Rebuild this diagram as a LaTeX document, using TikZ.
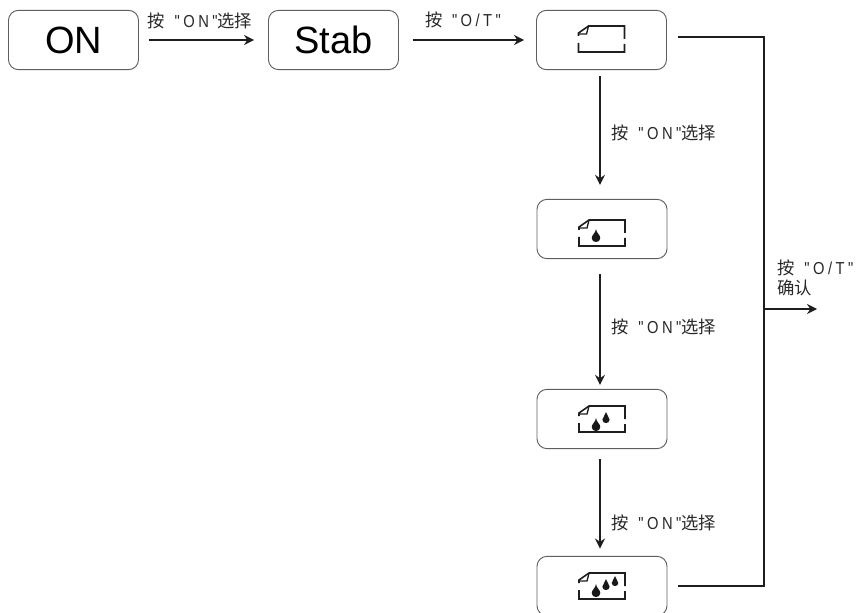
\documentclass[tikz,border=0pt]{standalone}
\usepackage{fontspec}
\usetikzlibrary{arrows.meta}
\setmainfont{Liberation Sans}
\newfontfamily\cjk{Noto Sans CJK SC}
\newfontfamily\narrowlatin[FakeStretch=0.85,LetterSpace=20]{Liberation Sans}
\newcommand{\lblon}{{\cjk 按}\ \ {\narrowlatin "ON"}{\cjk 选择}}
\newcommand{\lblot}{{\cjk 按}\ \ {\narrowlatin "O/T"}}
\newcommand{\inkdrop}[3]{\fill [color={rgb, 255:red, 25; green, 25; blue, 25 }] (#1,#2) .. controls (#1+0.3,#2+#3*0.3) and (#1+#3*0.33,#2+#3*0.45) .. (#1+#3*0.33,#2+#3*0.7) .. controls (#1+#3*0.33,#2+#3*1.1) and (#1-#3*0.33,#2+#3*1.1) .. (#1-#3*0.33,#2+#3*0.7) .. controls (#1-#3*0.33,#2+#3*0.45) and (#1-0.3,#2+#3*0.3) .. cycle ;}
\tikzset{every picture/.style={line width=0.75pt},
  statebox/.style={draw={rgb, 255:red, 95; green, 95; blue, 95 },rounded corners=7.5pt,line width=0.7pt,minimum width=97.5pt,minimum height=44.5pt,inner sep=0pt,font=\fontsize{28.5}{32}\selectfont},
  conn/.style={color={rgb, 255:red, 30; green, 30; blue, 30 },line width=1.15pt,-{Stealth[length=7.5pt,width=7.5pt]}},
  lbl/.style={inner sep=0.75pt,font=\fontsize{13}{15}\selectfont,color={rgb, 255:red, 40; green, 40; blue, 40 }},
  paper/.pic={
    \draw [color={rgb, 255:red, 30; green, 30; blue, 30 },line width=1.2pt] (-23,4) -- (-23,7) -- (-13,14) -- (23,14) -- (23,1) (23,-4) -- (23,-12) -- (-23,-12) -- (-23,-3) ;
    \draw [color={rgb, 255:red, 30; green, 30; blue, 30 },line width=1pt] (-23,6) -- (-15,6) -- (-13,14) ;
  }}

\begin{document}
\begin{tikzpicture}[x=0.75pt,y=0.75pt,yscale=-1,xscale=1]
\useasboundingbox (0,0) rectangle (857,613);

% State boxes
\node [statebox] (on) at (73.5,40) {ON};
\node [statebox] (stab) at (333.5,40) {Stab};
\node [statebox] (plain) at (601.5,40) {};
\node [statebox] (onedrop) at (602,229) {};
\node [statebox] (twodrop) at (602,419) {};
\node [statebox] (threedrop) at (602,586) {};

% Icons
\pic at (601.5,40) {paper};
\pic at (602,234) {paper};
\pic at (602,420) {paper};
\pic at (602,587) {paper};
\inkdrop{596}{229}{13}
\inkdrop{596}{418}{13}
\inkdrop{606}{412}{11}
\inkdrop{596}{584}{13}
\inkdrop{606}{579}{11}
\inkdrop{615}{576}{10}

% Free ends
\coordinate (rail) at (764,309);
\coordinate (out) at (817,309);

% Connectors
\draw [conn,shorten <=7.5pt,shorten >=10.5pt] (on) -- (stab);
\draw [conn,shorten <=10.5pt,shorten >=9pt] (stab) -- (plain);
\draw [conn,shorten <=4.7pt,shorten >=10.5pt] (plain.south -| 600,0) -- (onedrop.north -| 600,0);
\draw [conn,shorten <=11.5pt,shorten >=3pt] (onedrop.south -| 600,0) -- (twodrop.north -| 600,0);
\draw [conn,shorten <=7.7pt,shorten >=5.5pt] (twodrop.south -| 600,0) -- (threedrop.north -| 600,0);
\draw [color={rgb, 255:red, 30; green, 30; blue, 30 },line width=1.15pt,shorten <=8pt,shorten >=8pt] ([yshift=-2.25pt]plain.east) -| (rail) |- (threedrop.east);
\draw [conn] (rail) -- (out);

% Text Node
\node [lbl,anchor=center] (txtonstab) at (200,21) {\lblon};
% Text Node
\node [lbl,anchor=center] (txtotplain) at (463,20) {\lblot};
% Text Node
\node [lbl,anchor=west] (txtfirst) at (610,133) {\lblon};
% Text Node
\node [lbl,anchor=west] (txtsecond) at (610,327) {\lblon};
% Text Node
\node [lbl,anchor=west] (txtthird) at (610,523) {\lblon};
% Text Node
\node [lbl,anchor=west] (txtconfirm) at (776,268) {\lblot};
% Text Node
\node [lbl,anchor=west] (txtconfirmb) at (776,288) {\cjk 确认};
\end{tikzpicture}
\end{document}
